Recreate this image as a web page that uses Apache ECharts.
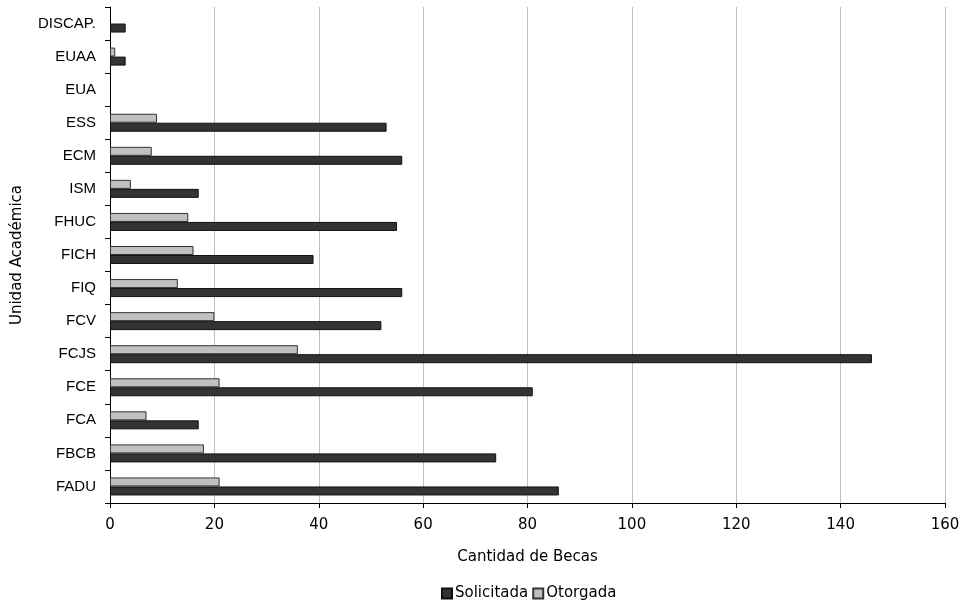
<!DOCTYPE html>
<html><head><meta charset="utf-8">
<script src="https://cdn.jsdelivr.net/npm/echarts@6/dist/echarts.min.js"></script>
<style>html,body{margin:0;padding:0;background:#fff}#c{width:966px;height:606px}</style>
</head><body><div id="c"></div>
<script>
const categories = ["FADU","FBCB","FCA","FCE","FCJS","FCV","FIQ","FICH","FHUC","ISM","ECM","ESS","EUA","EUAA","DISCAP."];
const solicitada = [86,74,17,81,146,52,56,39,55,17,56,53,0,3,3];
const otorgada   = [21,18,7,21,36,20,13,16,15,4,8,9,0,1,0];
const xTicks = [0,20,40,60,80,100,120,140,160];

function toData(arr){
  return arr.map(v => v === 0 ? {value:0,itemStyle:{borderWidth:0,opacity:0}} : v);
}

const chart = echarts.init(document.getElementById('c'));
chart.setOption({
  animation:false,
  grid:{left:110,right:21,top:7,bottom:103,containLabel:false,outerBoundsMode:'none'},
  legend:{
    data:['Solicitada','Otorgada'],
    bottom:0,left:436,itemWidth:10,itemHeight:10,itemGap:4,icon:'rect',
    textStyle:{fontFamily:'DejaVu Sans',fontSize:15,color:'#000',padding:[0,0,0,-2]}
  },
  xAxis:{
    type:'value',min:xTicks[0],max:xTicks[xTicks.length-1],interval:20,
    name:'Cantidad de Becas',nameLocation:'middle',nameGap:47,
    nameTextStyle:{fontFamily:'DejaVu Sans',fontSize:15,color:'#000'},
    axisLine:{show:true,lineStyle:{color:'#000',width:1}},
    axisTick:{show:true,length:5,lineStyle:{color:'#000'}},
    axisLabel:{fontFamily:'DejaVu Sans',fontSize:15,color:'#000',margin:15},
    splitLine:{show:true,lineStyle:{color:'#c0c0c0',width:1}}
  },
  yAxis:{
    type:'category',data:categories,
    name:'Unidad Académica',nameLocation:'middle',nameGap:85,nameRotate:90,
    nameTextStyle:{fontFamily:'DejaVu Sans',fontSize:15,color:'#000'},
    axisLine:{show:true,lineStyle:{color:'#000',width:1}},
    axisTick:{show:true,length:5,alignWithLabel:false,lineStyle:{color:'#000'}},
    axisLabel:{fontFamily:'Liberation Sans',fontSize:15,color:'#000',margin:14},
    splitLine:{show:false}
  },
  series:[
    {name:'Otorgada',type:'bar',data:toData(otorgada),barWidth:9,barGap:'0%',
     itemStyle:{color:'#c0c0c0',borderColor:'#333',borderWidth:1}},
    {name:'Solicitada',type:'bar',data:toData(solicitada),barWidth:9,barGap:'0%',
     itemStyle:{color:'#333333',borderColor:'#111',borderWidth:1}}
  ]
});
</script></body></html>
